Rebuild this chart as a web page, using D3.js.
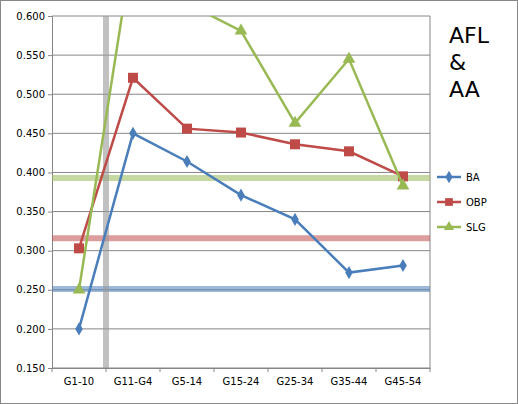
<!DOCTYPE html><html><head><script src="https://cdn.jsdelivr.net/npm/d3@7"></script>
<style>body{margin:0;background:#fff}</style></head><body><svg id="c" width="518" height="404"></svg>
<script>
const categories=["G1-10","G11-G4","G5-14","G15-24","G25-34","G35-44","G45-54"];
const BA=[0.200,0.450,0.414,0.371,0.340,0.272,0.281];
const OBP=[0.303,0.521,0.456,0.451,0.436,0.427,0.395];
const SLG=[0.250,0.690,0.616,0.581,0.463,0.545,0.383];
const refs=[{v:0.393,c:"#9bbb59"},{v:0.316,c:"#c0504d"},{v:0.251,c:"#4f81bd"}];
const yTicks=[0.15,0.2,0.25,0.3,0.35,0.4,0.45,0.5,0.55,0.6];
const svg=d3.select("#c");
svg.append("rect").attr("x",0.5).attr("y",0.5).attr("width",517).attr("height",403).attr("fill","#fff").attr("stroke","#888");
const L=52,R=430,T=16,B=368;
const x=d3.scaleBand().domain(categories).range([L,R]);
const y=d3.scaleLinear().domain([0.15,0.6]).range([B,T]);
svg.append("defs").append("clipPath").attr("id","cp").append("rect").attr("x",L).attr("y",T).attr("width",R-L).attr("height",B-T);
svg.selectAll(".g").data(yTicks).enter().append("line").attr("x1",L).attr("x2",R).attr("y1",d=>y(d)).attr("y2",d=>y(d)).attr("stroke","#868686");
svg.append("line").attr("x1",R).attr("x2",R).attr("y1",T).attr("y2",B).attr("stroke","#868686");
const ya=svg.append("g").attr("transform",`translate(${L},0)`).call(d3.axisLeft(y).tickValues(yTicks).tickFormat(d3.format(".3f")).tickSize(4));
const xa=svg.append("g").attr("transform",`translate(0,${B})`).call(d3.axisBottom(x).tickSize(0).tickPadding(10));
[ya,xa].forEach(a=>{a.selectAll("text").attr("font-family","Verdana, DejaVu Sans").attr("font-size",10).attr("fill","#000");a.selectAll("path,line").attr("stroke","#868686");});
svg.selectAll(".xt").data(d3.range(8)).enter().append("line").attr("x1",i=>L+i*x.step()).attr("x2",i=>L+i*x.step()).attr("y1",B).attr("y2",B+4).attr("stroke","#868686");
const p=svg.append("g").attr("clip-path","url(#cp)");
refs.forEach(r=>p.append("line").attr("x1",L).attr("x2",R).attr("y1",y(r.v)).attr("y2",y(r.v)).attr("stroke",r.c).attr("stroke-width",6).attr("opacity",0.55));
p.append("line").attr("x1",x("G11-G4")).attr("x2",x("G11-G4")).attr("y1",T).attr("y2",B+4).attr("stroke","#999").attr("stroke-width",6).attr("opacity",0.6);
const cx=(d,i)=>x(categories[i])+x.bandwidth()/2;
const line=d3.line().x(cx).y(d=>y(d));
const series=[{d:BA,c:"#4a7ebb",m:"d"},{d:OBP,c:"#be4b48",m:"s"},{d:SLG,c:"#98b954",m:"t"}];
series.forEach(s=>{
 p.append("path").attr("d",line(s.d)).attr("fill","none").attr("stroke",s.c).attr("stroke-width",2.5);
 const sym=s.m=="d"?d3.symbolDiamond:s.m=="s"?d3.symbolSquare:d3.symbolTriangle;
 const sz=s.m=="d"?50:s.m=="s"?100:70;
 p.selectAll(null).data(s.d).enter().append("path").attr("d",d3.symbol(sym,sz)).attr("fill",s.c).attr("transform",(d,i)=>`translate(${cx(d,i)},${y(d)})`);
});
const names=["BA","OBP","SLG"];
names.forEach((n,i)=>{const s=series[i],ly=177+i*25;
 svg.append("line").attr("x1",437).attr("x2",461).attr("y1",ly).attr("y2",ly).attr("stroke",s.c).attr("stroke-width",2.5);
 const sym=s.m=="d"?d3.symbolDiamond:s.m=="s"?d3.symbolSquare:d3.symbolTriangle;
 svg.append("path").attr("d",d3.symbol(sym,s.m=="s"?60:45)).attr("fill",s.c).attr("transform",`translate(449,${ly})`);
 svg.append("text").attr("x",466).attr("y",ly+4).text(n).attr("font-family","Verdana, DejaVu Sans").attr("font-size",10);
});
["AFL","&","AA"].forEach((t,i)=>svg.append("text").attr("x",449).attr("y",43+i*27).text(t).attr("font-family","Verdana, DejaVu Sans").attr("font-size",22));
</script></body></html>
